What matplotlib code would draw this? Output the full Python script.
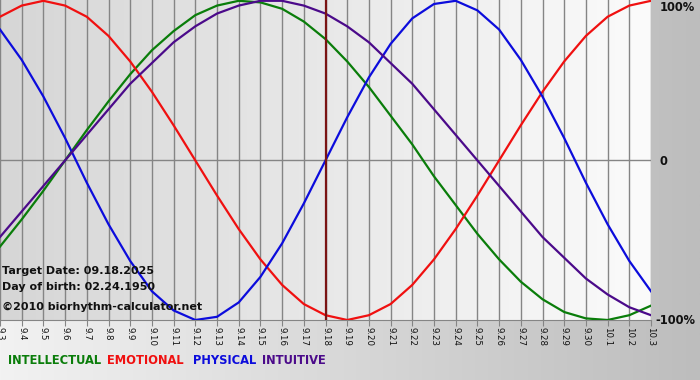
import matplotlib
matplotlib.use("Agg")
import matplotlib.pyplot as plt
import matplotlib.transforms as mtransforms
import numpy as np

# day labels, 9.3 .. 10.3
days = ["9.3", "9.4", "9.5", "9.6", "9.7", "9.8", "9.9", "9.10", "9.11", "9.12",
        "9.13", "9.14", "9.15", "9.16", "9.17", "9.18", "9.19", "9.20", "9.21",
        "9.22", "9.23", "9.24", "9.25", "9.26", "9.27", "9.28", "9.29", "9.30",
        "10.1", "10.2", "10.3"]
target_day = "9.18"

physical = [0.82, 0.63, 0.40, 0.14, -0.14, -0.40, -0.63, -0.82, -0.94, -1.00,
            -0.98, -0.89, -0.73, -0.52, -0.27, 0.00, 0.27, 0.52, 0.73, 0.89,
            0.98, 1.00, 0.94, 0.82, 0.63, 0.40, 0.14, -0.14, -0.40, -0.63, -0.82]
emotional = [0.90, 0.97, 1.00, 0.97, 0.90, 0.78, 0.62, 0.43, 0.22, 0.00,
             -0.22, -0.43, -0.62, -0.78, -0.90, -0.97, -1.00, -0.97, -0.90, -0.78,
             -0.62, -0.43, -0.22, 0.00, 0.22, 0.43, 0.62, 0.78, 0.90, 0.97, 1.00]
intellectual = [-0.54, -0.37, -0.19, 0.00, 0.19, 0.37, 0.54, 0.69, 0.81, 0.91,
                0.97, 1.00, 0.99, 0.95, 0.87, 0.76, 0.62, 0.46, 0.28, 0.10,
                -0.10, -0.28, -0.46, -0.62, -0.76, -0.87, -0.95, -0.99, -1.00, -0.97, -0.91]
intuitive = [-0.48, -0.32, -0.16, 0.00, 0.16, 0.32, 0.48, 0.61, 0.74, 0.84,
             0.92, 0.97, 1.00, 1.00, 0.97, 0.92, 0.84, 0.74, 0.61, 0.48,
             0.32, 0.16, 0.00, -0.16, -0.32, -0.48, -0.61, -0.74, -0.84, -0.92, -0.97]

GREEN = "#0a7d0a"
RED = "#f01010"
BLUE = "#0c0cdc"
PURPLE = "#4b0a8a"

fig = plt.figure(figsize=(7, 3.8), dpi=100)

# figure background gradient
bg = fig.add_axes([0, 0, 1, 1], zorder=-10)
grad = np.linspace(0, 1, 256).reshape(1, -1)
bg.imshow(grad, aspect="auto", cmap=matplotlib.colors.LinearSegmentedColormap.from_list(
    "bgc", ["#f2f2f2", "#bdbdbd"]), extent=[0, 1, 0, 1])
bg.axis("off")

ax = fig.add_axes([0, 60 / 380, 651 / 700, 320 / 380])
x = np.arange(len(days))
ax.imshow(grad, aspect="auto", cmap=matplotlib.colors.LinearSegmentedColormap.from_list(
    "plc", ["#d6d6d6", "#fbfbfb"]), extent=[0, len(days) - 1, -1, 1], zorder=0)

for xi in x:
    ax.axvline(xi, color="#858585", lw=1.0, zorder=1)
ax.axhline(0, color="#858585", lw=1.0, zorder=1)

ax.plot(x, intellectual, color=GREEN, lw=1.6, zorder=3)
ax.plot(x, emotional, color=RED, lw=1.6, zorder=3)
ax.plot(x, physical, color=BLUE, lw=1.6, zorder=3)
ax.plot(x, intuitive, color=PURPLE, lw=1.6, zorder=3)

ax.axvline(days.index(target_day), color="#7a1414", lw=1.6, zorder=4)

ax.set_xlim(0, len(days) - 1)
ax.set_ylim(-1, 1.005)
ax.set_xticks(x)
ax.set_xticklabels(days, rotation=270, fontsize=6.2, color="#111111")
ax.tick_params(axis="x", length=4, color="#858585", pad=1)
ax.set_yticks([])
for s in ["top", "left", "right"]:
    ax.spines[s].set_visible(False)
ax.spines["bottom"].set_color("#858585")

# right side labels
tr = mtransforms.blended_transform_factory(ax.transAxes, ax.transData)
rl = dict(fontsize=8.3, fontweight="bold", va="center", ha="left", color="#111111")
ax.text(1.013, 0.96, "100%", transform=tr, **rl)
ax.text(1.013, -0.01, "0", transform=tr, **rl)
ax.text(1.006, -1.0, "-100%", transform=tr, clip_on=False, **rl)

# info text
info = dict(fontsize=8.0, fontweight="bold", color="#111111", va="center", ha="left")
fig.text(2 / 700, 1 - 271 / 380, "Target Date: 09.18.2025", **info)
fig.text(2 / 700, 1 - 287 / 380, "Day of birth: 02.24.1950", **info)
fig.text(2 / 700, 1 - 307 / 380, "\u00a92010 biorhythm-calculator.net", **info)

# legend
leg = dict(fontsize=8.3, fontweight="bold", va="center", ha="left")
fig.text(8 / 700, 1 - 361 / 380, "INTELLECTUAL", color=GREEN, **leg)
fig.text(107 / 700, 1 - 361 / 380, "EMOTIONAL", color=RED, **leg)
fig.text(193 / 700, 1 - 361 / 380, "PHYSICAL", color=BLUE, **leg)
fig.text(262 / 700, 1 - 361 / 380, "INTUITIVE", color=PURPLE, **leg)

fig.savefig("out.png", dpi=100)
